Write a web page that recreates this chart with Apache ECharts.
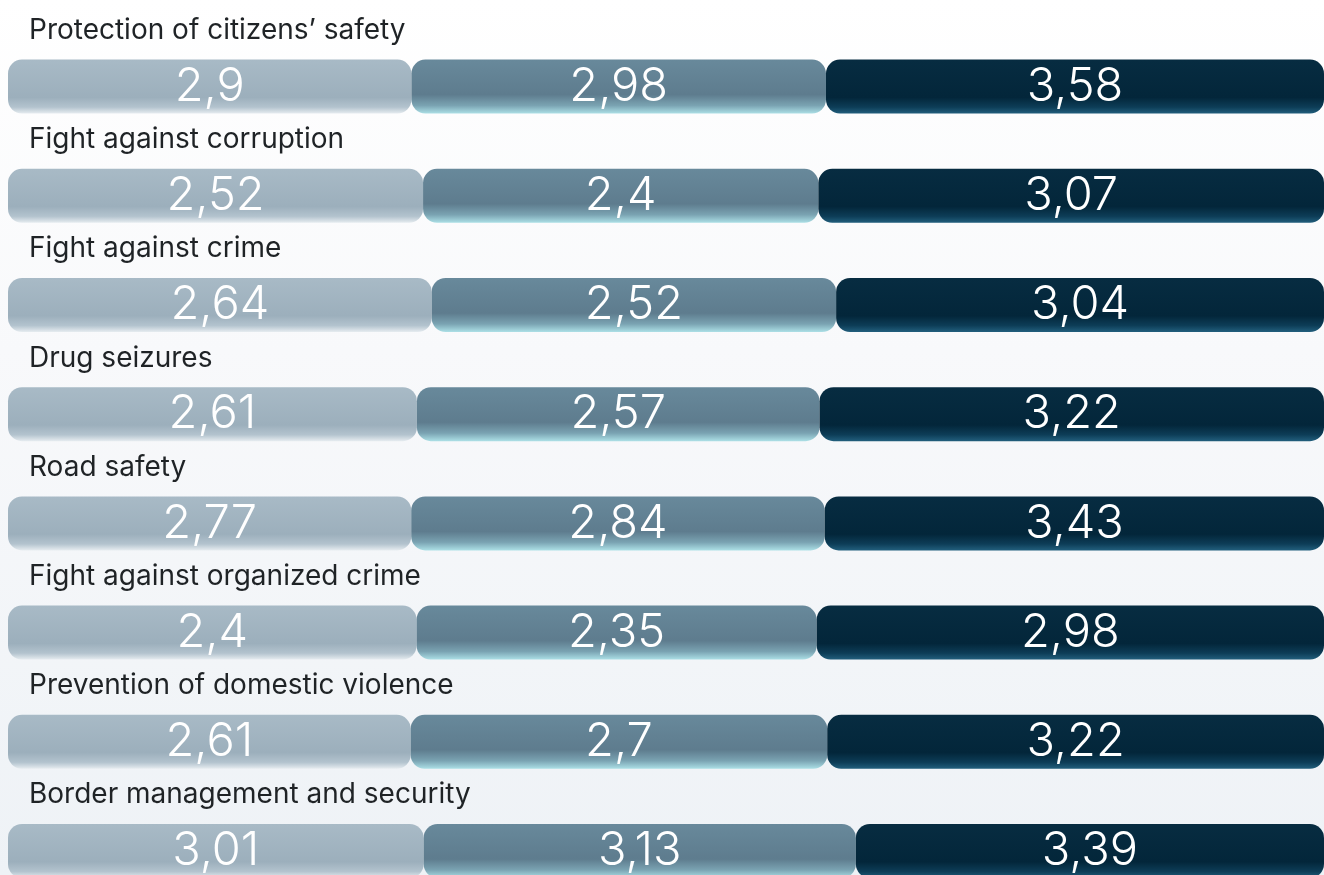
<!DOCTYPE html>
<html>
<head>
<meta charset="utf-8">
<script src="https://cdn.jsdelivr.net/npm/echarts@6/dist/echarts.min.js"></script>
<style>
  html, body { margin: 0; padding: 0; }
  body { background: linear-gradient(180deg, #ffffff 0%, #f8f9fb 40%, #eef2f6 100%); }
  #chart { width: 1324px; height: 875px; }
</style>
</head>
<body>
<div id="chart"></div>
<script>
const categories = [
  'Protection of citizens\u2019 safety',
  'Fight against corruption',
  'Fight against crime',
  'Drug seizures',
  'Road safety',
  'Fight against organized crime',
  'Prevention of domestic violence',
  'Border management and security'
]
const seriesA = [2.9, 2.52, 2.64, 2.61, 2.77, 2.4, 2.61, 3.01]
const seriesB = [2.98, 2.4, 2.52, 2.57, 2.84, 2.35, 2.7, 3.13]
const seriesC = [3.58, 3.07, 3.04, 3.22, 3.43, 2.98, 3.22, 3.39]

// each row fills the full width: share of the row total
const totals = categories.map((_, i) => seriesA[i] + seriesB[i] + seriesC[i])
const share = arr => arr.map((v, i) => ({ value: v / totals[i] * 100, raw: v }))

const grad = stops => new echarts.graphic.LinearGradient(0, 0, 0, 1,
  stops.map(([offset, color]) => ({ offset, color })))

const segStyles = [
  grad([[0, '#a8bac6'], [0.7, '#9cafbc'], [0.88, '#b3c3ce'], [1, '#e6ecf0']]),
  grad([[0, '#68899b'], [0.65, '#5e7c8e'], [0.85, '#7aa3b2'], [1, '#ace0e6']]),
  grad([[0, '#072c41'], [0.7, '#03263a'], [0.88, '#0d3d57'], [1, '#225f7d']]),
]

const mkSeries = (name, arr, idx) => ({
  name, type: 'bar', stack: 'row', barWidth: 54,
  data: share(arr),
  itemStyle: { color: segStyles[idx], borderRadius: 14 },
  label: {
    show: true, position: 'inside', color: '#ffffff',
    fontFamily: 'Inter', fontWeight: 300, fontSize: 47,
    formatter: p => String(p.data.raw).replace('.', ',')
  },
  emphasis: { disabled: true },
})

const chart = echarts.init(document.getElementById('chart'))
chart.setOption({
  backgroundColor: 'transparent',
  animation: false,
  grid: { left: 8, right: 0, top: 32, height: 873.6, outerBoundsMode: 'none', containLabel: false },
  xAxis: { type: 'value', min: 0, max: 100, show: false },
  yAxis: {
    type: 'category', inverse: true, data: categories,
    axisLine: { show: false }, axisTick: { show: false },
    axisLabel: {
      inside: true, margin: 21, align: 'left', verticalAlign: 'middle',
      interval: 0, showMinLabel: true, showMaxLabel: true, hideOverlap: false,
      // second empty line lifts the title above its bar
      formatter: v => `{t|${v}}\n{s|}`,
      rich: {
        t: { color: '#1f2326', fontFamily: 'Inter', fontSize: 28, height: 32, lineHeight: 32 },
        s: { height: 112, lineHeight: 112 },
      },
    },
    z: 5,
  },
  series: [
    mkSeries('A', seriesA, 0),
    mkSeries('B', seriesB, 1),
    mkSeries('C', seriesC, 2),
  ],
})
</script>
</body>
</html>
